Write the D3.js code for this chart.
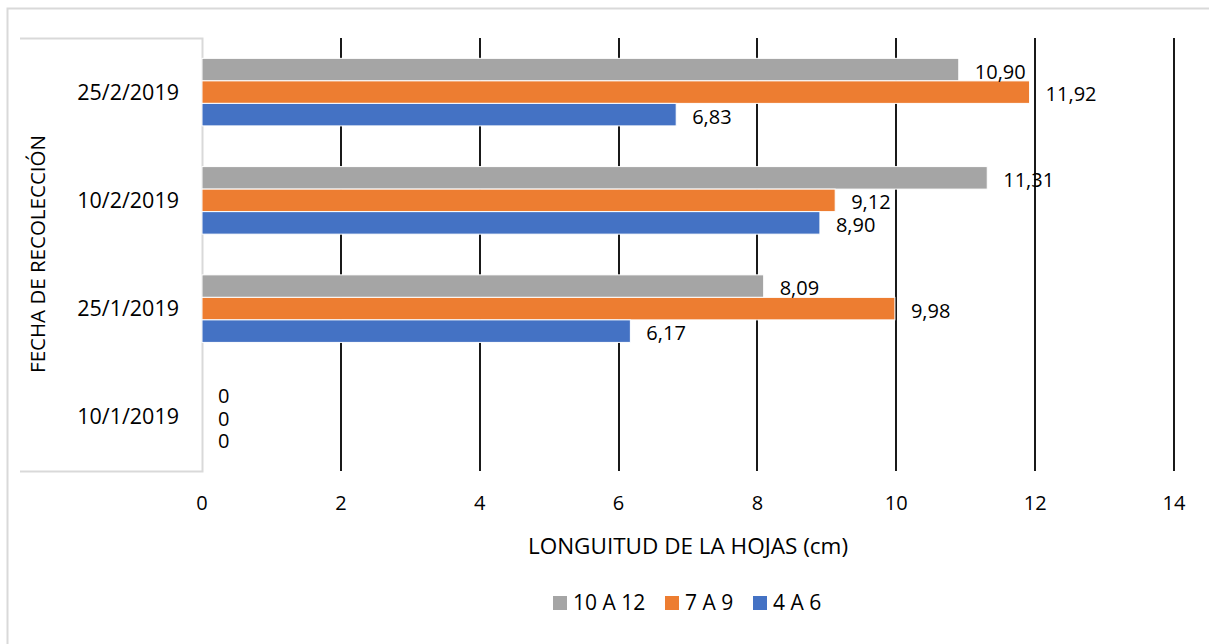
<!DOCTYPE html>
<html><head><meta charset="utf-8">
<script src="https://cdn.jsdelivr.net/npm/d3@7"></script>
<style>
html,body{margin:0;padding:0;background:#fff;}
svg{display:block;font-family:"Open Sans",sans-serif;}
</style></head>
<body>
<svg id="c" width="1209" height="644"></svg>
<script>
const categories = ["25/2/2019","10/2/2019","25/1/2019","10/1/2019"];
const seriesNames = ["10 A 12","7 A 9","4 A 6"];
const seriesColors = ["#A5A5A5","#ED7D31","#4472C4"];
const values10a12 = [10.90, 11.31, 8.09, 0];
const values7a9 = [11.92, 9.12, 9.98, 0];
const values4a6 = [6.83, 8.90, 6.17, 0];
const xTicks = [0,2,4,6,8,10,12,14];
const xTitle = "LONGUITUD DE LA HOJAS (cm)";
const yTitle = "FECHA DE RECOLECCIÓN";

const seriesValues = [values10a12, values7a9, values4a6];
const svg = d3.select("#c");
const fmt = v => v === 0 ? "0" : d3.format(".2f")(v).replace(".", ",");

// outer frame
svg.append("rect").attr("x",7.5).attr("y",8.5).attr("width",1250).attr("height",700)
  .attr("fill","#fff").attr("stroke","#d9d9d9").attr("stroke-width",2);

const x = d3.scaleLinear().domain([0,14]).range([202,1174]);
const y0 = d3.scaleBand().domain(categories).range([38,471]).padding(0);
const step = y0.bandwidth();
const gap = step*0.376;
const y1 = d3.scaleBand().domain(seriesNames).range([gap/2, step-gap/2]).padding(0);

// category box lines
svg.append("path").attr("d","M20,38.5H202.5V471.5H20").attr("fill","none")
  .attr("stroke","#d9d9d9").attr("stroke-width",2);

// gridlines
svg.append("g").selectAll("line").data(xTicks.filter(t=>t>0)).join("line")
  .attr("x1",d=>Math.round(x(d))).attr("x2",d=>Math.round(x(d)))
  .attr("y1",38).attr("y2",471).attr("stroke","#000").attr("stroke-width",1.8);

// x tick labels
svg.append("g").selectAll("text").data(xTicks).join("text")
  .attr("x",d=>x(d)).attr("y",503).attr("dy","0.35em").attr("text-anchor","middle")
  .attr("font-size",20).attr("fill","#000").text(d=>d);

// category labels
svg.append("g").selectAll("text").data(categories).join("text")
  .attr("x",179).attr("y",d=>y0(d)+step/2).attr("dy","0.35em").attr("text-anchor","end")
  .attr("font-size",21.5).attr("fill","#000").text(d=>d);

// bars
const rows = [];
categories.forEach((c,i)=>seriesNames.forEach((s,j)=>rows.push({c,s,j,v:seriesValues[j][i]})));
svg.append("g").selectAll("rect").data(rows.filter(r=>r.v>0)).join("rect")
  .attr("x",x(0)).attr("y",d=>y0(d.c)+y1(d.s))
  .attr("width",d=>x(d.v)-x(0)).attr("height",y1.bandwidth())
  .attr("fill",d=>seriesColors[d.j]).attr("stroke","#fff").attr("stroke-width",1);

// data labels
svg.append("g").selectAll("text").data(rows).join("text")
  .attr("x",d=>x(d.v)+16).attr("y",d=>y0(d.c)+y1(d.s)+y1.bandwidth()/2+2)
  .attr("dy","0.35em").attr("font-size",20).attr("fill","#000").text(d=>fmt(d.v));

// axis titles
svg.append("text").attr("x",688).attr("y",546).attr("dy","0.35em").attr("text-anchor","middle")
  .attr("font-size",22.5).attr("fill","#000").text(xTitle);
svg.append("text").attr("transform","translate(38,254) rotate(-90)").attr("dy","0.35em")
  .attr("text-anchor","middle").attr("font-size",20.5).attr("fill","#000").text(yTitle);

// legend
const legX = [553,665,753];
const lg = svg.append("g").selectAll("g").data(seriesNames).join("g")
  .attr("transform",(d,i)=>`translate(${legX[i]},603)`);
lg.append("rect").attr("x",0).attr("y",-7).attr("width",14).attr("height",14)
  .attr("fill",(d,i)=>seriesColors[i]);
lg.append("text").attr("x",20).attr("y",0).attr("dy","0.35em").attr("font-size",21)
  .attr("fill","#000").text(d=>d);
</script>
</body></html>
